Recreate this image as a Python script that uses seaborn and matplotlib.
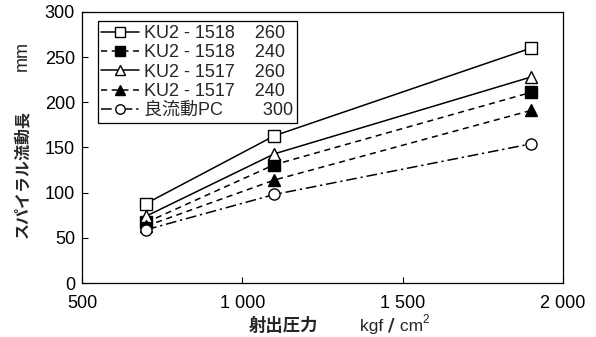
import pandas as pd
import seaborn as sns
import matplotlib.pyplot as plt

# data
pressure = [700, 1100, 1900]
ku1518_260 = [88, 163, 260]
ku1518_240 = [67, 131, 211]
ku1517_260 = [74, 143, 228]
ku1517_240 = [63, 114, 191]
pc_300 = [59, 98, 154]

series_names = ['KU2 - 1518', 'KU2 - 1518', 'KU2 - 1517', 'KU2 - 1517', '良流動PC']
series_temps = ['260', '240', '260', '240', '300']
series_values = [ku1518_260, ku1518_240, ku1517_260, ku1517_240, pc_300]

x_ticks = [500, 1000, 1500, 2000]
x_tick_labels = ['500', '1 000', '1 500', '2 000']
y_ticks = [0, 50, 100, 150, 200, 250, 300]

sns.set_theme(style='white')
plt.rcParams['font.family'] = ['Liberation Sans', 'Noto Sans CJK JP']
plt.rcParams['font.size'] = 12

rows = []
for i in range(len(series_names)):
    for x, y in zip(pressure, series_values[i]):
        rows.append({'series': i, 'pressure': x, 'length': y})
df = pd.DataFrame(rows)

styles = [
    dict(marker='s', mfc='white', ls='-'),
    dict(marker='s', mfc='black', ls=(0, (4, 3))),
    dict(marker='^', mfc='white', ls='-'),
    dict(marker='^', mfc='black', ls=(0, (4, 3))),
    dict(marker='o', mfc='white', ls=(0, (7, 2.5, 1.5, 2.5))),
]

fig = plt.figure(figsize=(5.96, 3.37), dpi=100)
ax = fig.add_axes([82 / 596, 1 - 283 / 337, 481 / 596, 271 / 337])

for i, st in enumerate(styles):
    d = df[df['series'] == i]
    sns.lineplot(data=d, x='pressure', y='length', ax=ax, color='black',
                 linewidth=1.1, linestyle=st['ls'], marker=st['marker'],
                 markersize=8, markerfacecolor=st['mfc'], markeredgecolor='black',
                 markeredgewidth=1.0, label=None, zorder=3)

ax.set_xlim(500, 2000)
ax.set_ylim(0, 300)
ax.set_xticks(x_ticks)
ax.set_xticklabels(x_tick_labels)
ax.set_yticks(y_ticks)
ax.tick_params(direction='in', length=4, width=0.8, colors='black', labelsize=13,
               bottom=True, left=True)
ax.tick_params(axis='y', pad=5)
ax.tick_params(axis='x', pad=9)
ax.set_xlabel('')
ax.set_ylabel('')
for s in ax.spines.values():
    s.set_color('black')
    s.set_linewidth(0.9)

# legend
handles = ax.get_lines()[:5]
labels = []
for n, t in zip(series_names, series_temps):
    if n.startswith('KU2'):
        labels.append(n + '    ' + t)
    else:
        labels.append(n + '        ' + t)
leg = ax.legend(handles, labels, loc='upper left', bbox_to_anchor=(0.033, 0.966),
                frameon=True, fancybox=False, edgecolor='black', framealpha=1,
                handlelength=2.1, handletextpad=0.25, borderpad=0.2,
                labelspacing=0.13, fontsize=13, borderaxespad=0, markerscale=0.85)
leg.get_frame().set_linewidth(0.9)
leg.set_zorder(5)

# axis titles
fig.text(22 / 596, 1 - 174 / 337, 'スパイラル流動長', rotation=90, ha='center', va='center',
         fontsize=11.5, fontweight='bold', family=['Noto Sans CJK JP'])
fig.text(22 / 596, 1 - 56 / 337, 'mm', rotation=90, ha='center', va='center', fontsize=13)
fig.text(283 / 596, 1 - 326 / 337, '射出圧力', ha='center', va='center',
         fontsize=12.5, fontweight='bold', family=['Noto Sans CJK JP'])

# unit: kgf / cm^2 built from pieces
t1 = fig.text(360 / 596, 1 - 331 / 337, 'kgf ', ha='left', va='baseline', fontsize=12.5)
t2 = ax.annotate('/', xy=(1, 0), xycoords=t1, va='bottom', ha='left',
                 fontsize=13, fontweight='bold', family=['DejaVu Sans'])
t3 = ax.annotate(' cm', xy=(1, 0), xycoords=t2, va='bottom', ha='left', fontsize=12.5)
ax.annotate('2', xy=(1, 0.55), xycoords=t3, va='bottom', ha='left', fontsize=8.5)

fig.savefig('out.png', dpi=100, facecolor='white')
